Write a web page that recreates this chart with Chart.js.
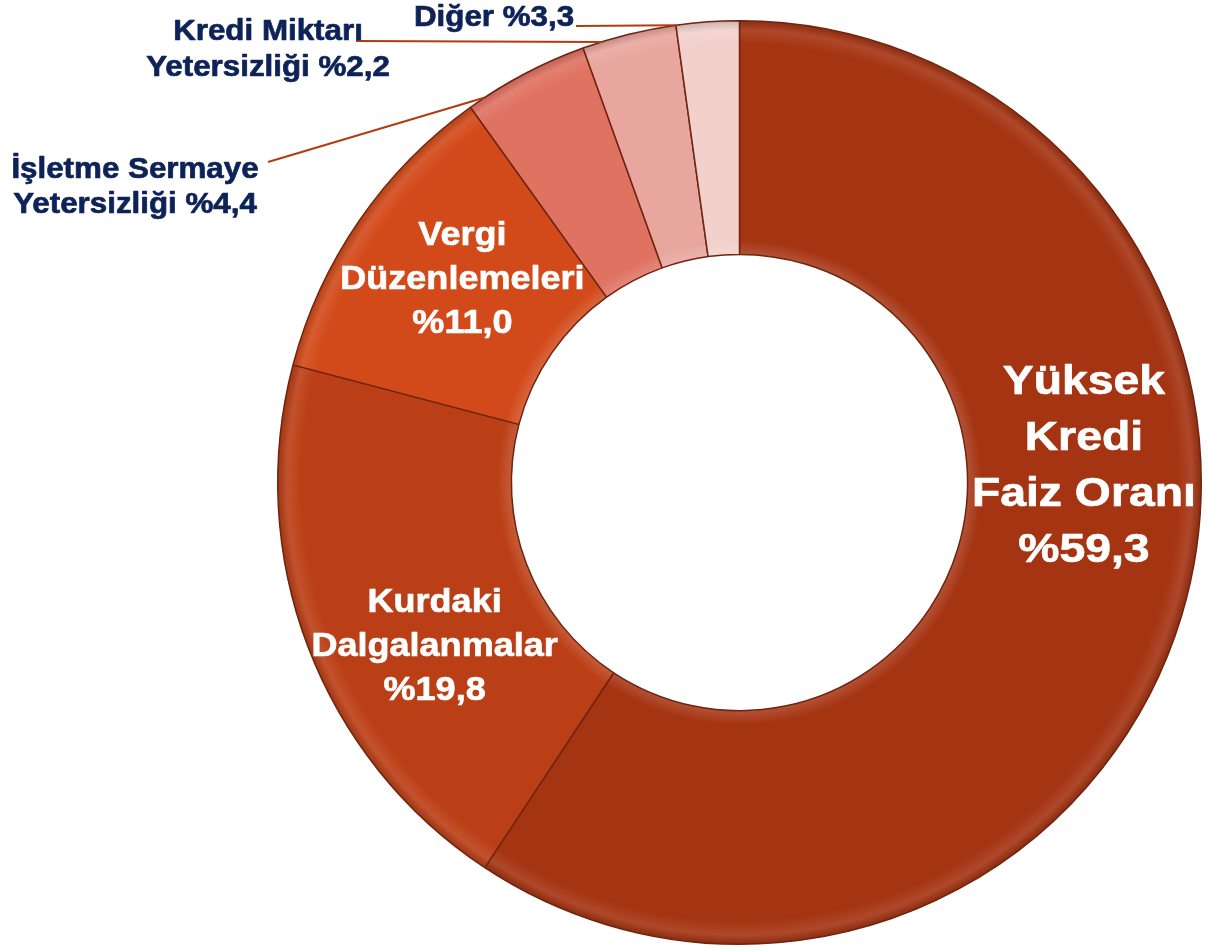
<!DOCTYPE html>
<html lang="tr">
<head>
<meta charset="utf-8">
<title>Kredi sorunları</title>
<script src="https://cdn.jsdelivr.net/npm/chart.js@4.4.1/dist/chart.umd.min.js"></script>
<style>
  html, body { margin: 0; padding: 0; background: #fff; }
  #wrap { width: 1209px; height: 951px; }
</style>
</head>
<body>
<div id="wrap"><canvas id="donut" width="1209" height="951"></canvas></div>
<script>
// slices, clockwise from 12 o'clock
const categories = ['Yüksek Kredi Faiz Oranı', 'Kurdaki Dalgalanmalar', 'Vergi Düzenlemeleri',
    'İşletme Sermaye Yetersizliği', 'Diğer', 'Kredi Miktarı Yetersizliği'];
const shares = [59.3, 19.8, 11.0, 4.4, 3.3, 2.2];
const labelLines = [
    ['Yüksek', 'Kredi', 'Faiz Oranı'],
    ['Kurdaki', 'Dalgalanmalar'],
    ['Vergi', 'Düzenlemeleri'],
    ['İşletme Sermaye', 'Yetersizliği'],
    ['Diğer'],
    ['Kredi Miktarı', 'Yetersizliği']
];
const sliceColors = ['#A53412', '#BB3F16', '#D24A1A', '#E07262', '#E8A69E', '#F2D0CC'];

const FONT = '"Liberation Sans", Arial, sans-serif';
const fmt = v => '%' + v.toFixed(1).replace('.', ',');

// mix a hex colour with white (amt > 0) or black (amt < 0)
function shade(hex, amt) {
    const n = parseInt(hex.slice(1), 16);
    const ch = [(n >> 16) & 255, (n >> 8) & 255, n & 255].map(c => {
        const t = amt > 0 ? 255 : 0;
        return Math.round(c + (t - c) * Math.abs(amt));
    });
    return 'rgb(' + ch.join(',') + ')';
}

// soft bevel: lighter rim at inner and outer edge, like the office 3d look
function bevelFill(context) {
    const chart = context.chart;
    const area = chart.chartArea;
    const ctrl = chart.getDatasetMeta(0).controller;
    const base = sliceColors[context.dataIndex];
    if (!area || !ctrl || !ctrl.outerRadius) return base;
    const cx = (area.left + area.right) / 2;
    const cy = (area.top + area.bottom) / 2;
    const r0 = ctrl.innerRadius, r1 = ctrl.outerRadius;
    const g = chart.ctx.createRadialGradient(cx, cy, r0, cx, cy, r1);
    g.addColorStop(0, shade(base, 0.15));
    g.addColorStop(0.06, base);
    g.addColorStop(0.9, base);
    g.addColorStop(0.96, shade(base, 0.1));
    g.addColorStop(1, shade(base, -0.15));
    return g;
}

// label placement (white text inside ring, navy text with leader lines outside)
const insideStyle = {
    0: {size: 41, sx: 1.13, lh: 56, shift: -20},
    1: {size: 34, sx: 1.06, lh: 44, shift: -7},
    2: {size: 34, sx: 1.06, lh: 44, shift: 2}
};
const outsideStyle = {
    3: {x: 135, base: 178, lh: 35, t: 0.13, from: [268, 162]},
    4: {x: 494, base: 26, lh: 35, t: 1.0, from: [576, 26]},
    5: {x: 268, base: 40, lh: 36, t: -1.2, from: [356, 41]}
};

function drawLines(ctx, lines, cx, firstBase, lh, sx) {
    lines.forEach((txt, i) => {
        ctx.save();
        ctx.translate(cx, firstBase + i * lh);
        ctx.scale(sx, 1);
        ctx.textAlign = 'center';
        ctx.textBaseline = 'alphabetic';
        ctx.lineWidth = 0.7;
        ctx.lineJoin = 'round';
        ctx.strokeStyle = ctx.fillStyle;
        ctx.strokeText(txt, 0, 0);
        ctx.fillText(txt, 0, 0);
        ctx.restore();
    });
}

const sliceLabels = {
    id: 'sliceLabels',
    afterDatasetsDraw(chart) {
        const ctx = chart.ctx;
        const arcs = chart.getDatasetMeta(0).data;
        arcs.forEach((arc, i) => {
            const lines = labelLines[i].slice();
            if (insideStyle[i]) {
                const s = insideStyle[i];
                lines.push(fmt(shares[i]));
                const a = (arc.startAngle + arc.endAngle) / 2 + s.shift * Math.PI / 180;
                const r = (arc.innerRadius + arc.outerRadius) / 2;
                const ax = arc.x + r * Math.cos(a);
                const ay = arc.y + r * Math.sin(a);
                const cap = 0.716 * s.size;
                const first = ay - (lines.length - 1) * s.lh / 2 + cap / 2;
                ctx.fillStyle = '#ffffff';
                ctx.font = 'bold ' + s.size + 'px ' + FONT;
                drawLines(ctx, lines, ax, first, s.lh, s.sx);
            } else if (outsideStyle[i]) {
                const s = outsideStyle[i];
                lines[lines.length - 1] += ' ' + fmt(shares[i]);
                const a = arc.startAngle + s.t * (arc.endAngle - arc.startAngle);
                const ex = arc.x + arc.outerRadius * Math.cos(a);
                const ey = arc.y + arc.outerRadius * Math.sin(a);
                ctx.save();
                ctx.strokeStyle = '#B23C0E';
                ctx.lineWidth = 2;
                ctx.beginPath();
                ctx.moveTo(s.from[0], s.from[1]);
                ctx.lineTo(ex, ey);
                ctx.stroke();
                ctx.restore();
                ctx.fillStyle = '#0D2358';
                ctx.font = 'bold 29px ' + FONT;
                drawLines(ctx, lines, s.x, s.base, s.lh, 1.08);
            }
        });
    }
};

new Chart(document.getElementById('donut'), {
    type: 'doughnut',
    data: {
        labels: categories,
        datasets: [{
            data: shares,
            backgroundColor: bevelFill,
            borderColor: '#6E2410',
            borderWidth: 1.5
        }]
    },
    options: {
        responsive: false,
        animation: false,
        cutout: '49.4%',
        layout: {padding: {left: 277, right: 7, top: 20, bottom: 6}},
        plugins: {
            legend: {display: false},
            tooltip: {enabled: false}
        }
    },
    plugins: [sliceLabels]
});
</script>
</body>
</html>
